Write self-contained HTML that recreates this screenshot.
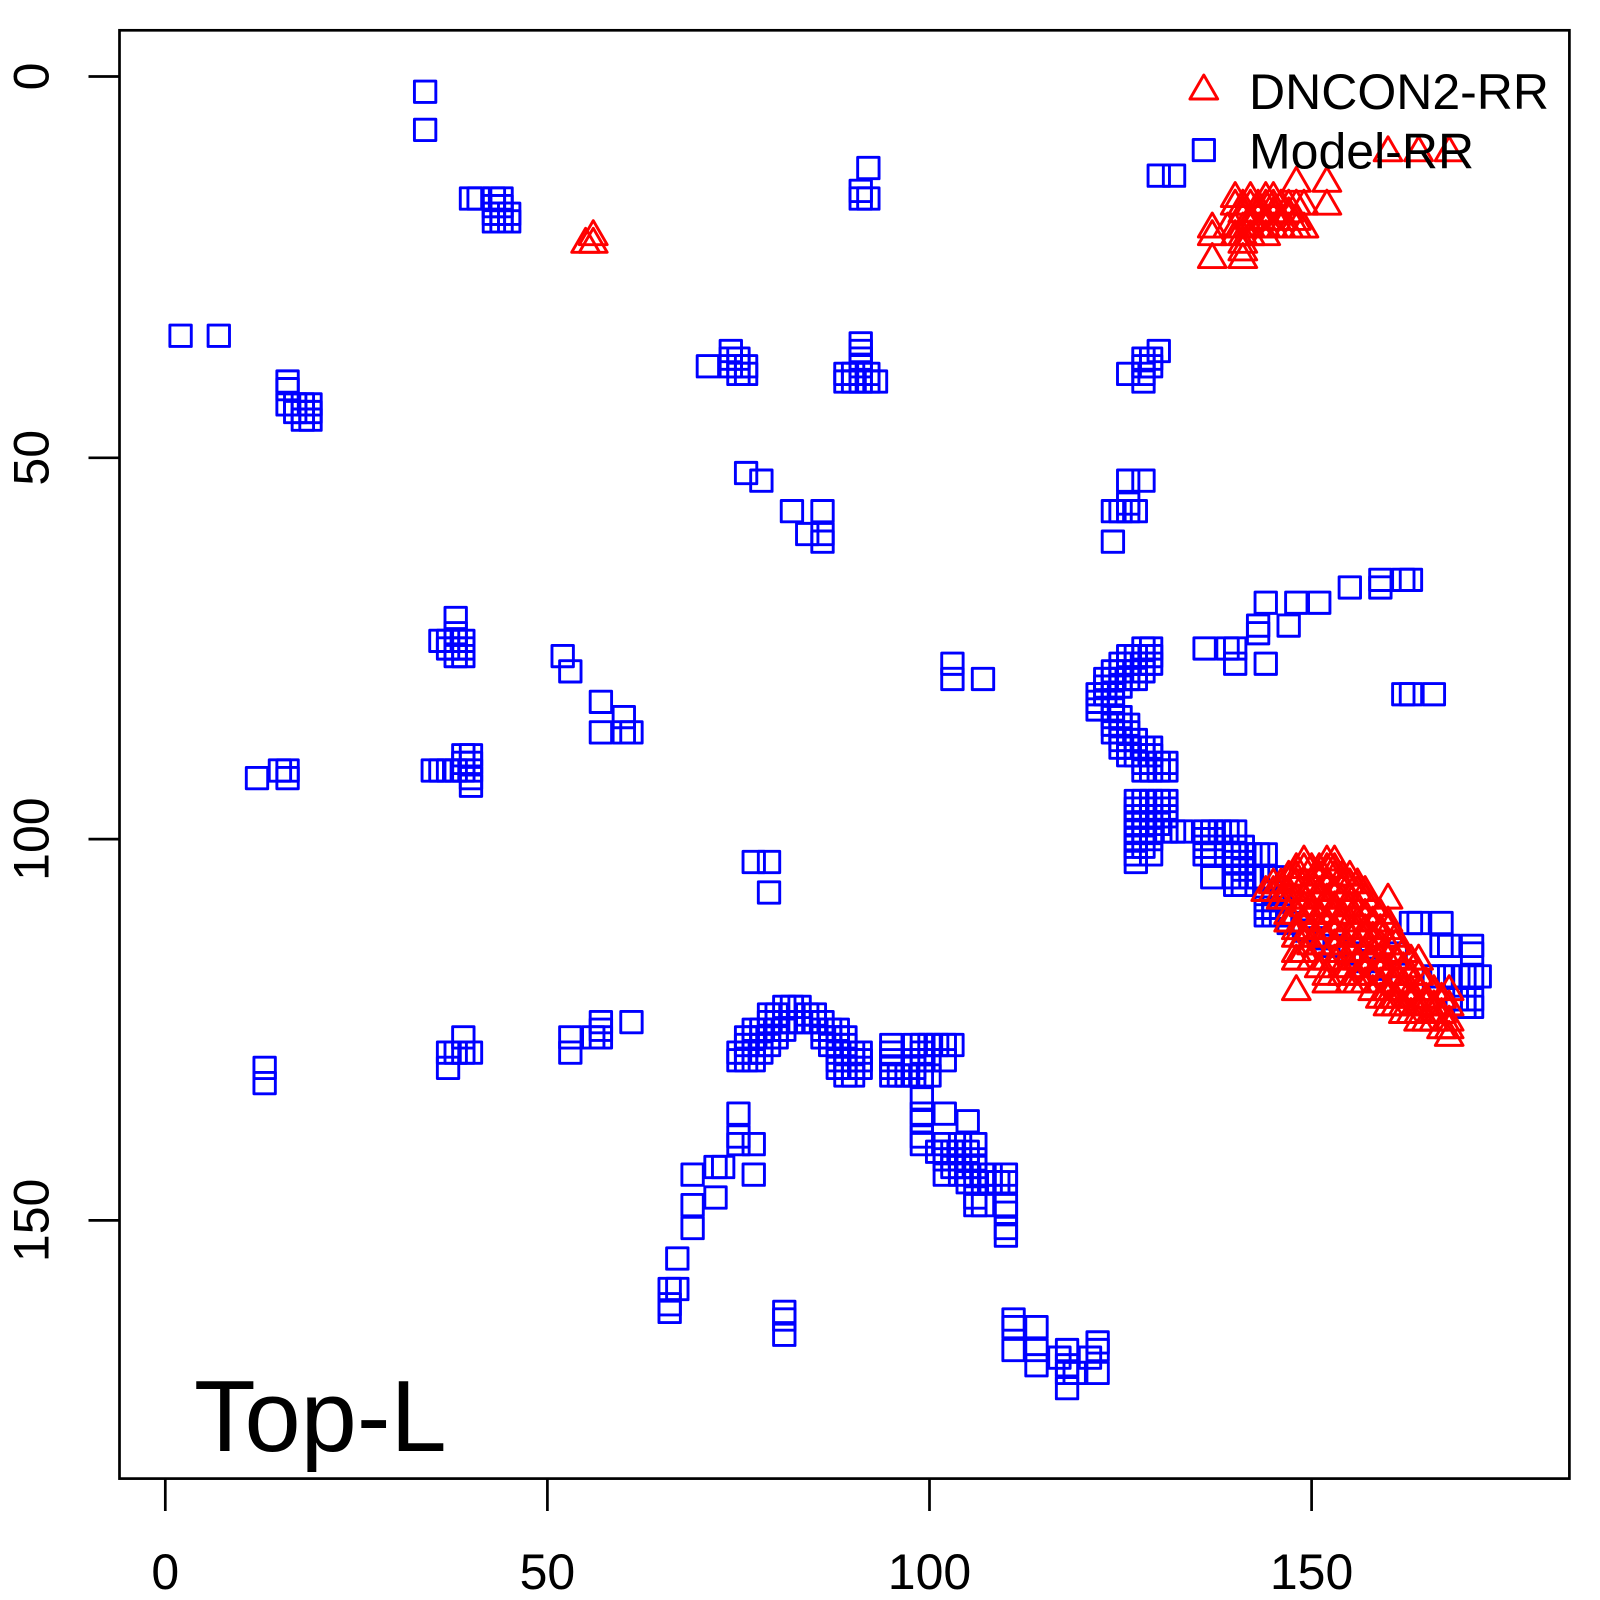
<!DOCTYPE html>
<html>
<head>
<meta charset="utf-8">
<style>
html,body{margin:0;padding:0;background:#fff;}
svg{display:block;}
text{font-family:"Liberation Sans",Arial,Helvetica,sans-serif;fill:#000;}
</style>
</head>
<body>
<svg width="1600" height="1600" viewBox="0 0 1600 1600" xmlns="http://www.w3.org/2000/svg">
<rect width="1600" height="1600" fill="#fff"/>
<defs>
<path id="s" d="M-1.4,-1.4H1.4V1.4H-1.4Z" fill="none" stroke="#0000ff" stroke-width="0.38" stroke-linejoin="round"/>
<path id="t" d="M0,-2.1L1.819,1.05H-1.819Z" fill="none" stroke="#ff0000" stroke-width="0.38" stroke-linejoin="round"/>
</defs>

<g transform="translate(165.3 76.5) scale(7.642 7.626)">
<!-- squares: top -->
<use href="#s" x="34" y="2"/><use href="#s" x="34" y="7"/>
<use href="#s" x="40" y="16"/><use href="#s" x="41" y="16"/><use href="#s" x="43" y="16"/><use href="#s" x="44" y="16"/>
<use href="#s" x="43" y="17"/><use href="#s" x="44" y="17"/><use href="#s" x="43" y="18"/><use href="#s" x="44" y="18"/><use href="#s" x="45" y="18"/>
<use href="#s" x="43" y="19"/><use href="#s" x="44" y="19"/><use href="#s" x="45" y="19"/>
<use href="#s" x="2" y="34"/><use href="#s" x="7" y="34"/>
<use href="#s" x="16" y="40"/><use href="#s" x="16" y="41"/><use href="#s" x="16" y="43"/><use href="#s" x="17" y="43"/><use href="#s" x="18" y="43"/><use href="#s" x="19" y="43"/>
<use href="#s" x="17" y="44"/><use href="#s" x="18" y="44"/><use href="#s" x="19" y="44"/><use href="#s" x="18" y="45"/><use href="#s" x="19" y="45"/>
<use href="#s" x="92" y="12"/><use href="#s" x="91" y="15"/><use href="#s" x="91" y="16"/><use href="#s" x="92" y="16"/>
<use href="#s" x="130" y="13"/><use href="#s" x="132" y="13"/>
<use href="#s" x="71" y="38"/><use href="#s" x="74" y="36"/><use href="#s" x="74" y="37"/><use href="#s" x="75" y="37"/><use href="#s" x="74" y="38"/><use href="#s" x="75" y="38"/><use href="#s" x="76" y="38"/><use href="#s" x="75" y="39"/><use href="#s" x="76" y="39"/>
<use href="#s" x="91" y="35"/><use href="#s" x="91" y="36"/><use href="#s" x="91" y="37"/><use href="#s" x="91" y="38"/>
<use href="#s" x="89" y="39"/><use href="#s" x="90" y="39"/><use href="#s" x="91" y="39"/><use href="#s" x="92" y="39"/>
<use href="#s" x="89" y="40"/><use href="#s" x="90" y="40"/><use href="#s" x="91" y="40"/><use href="#s" x="92" y="40"/><use href="#s" x="93" y="40"/>
<use href="#s" x="126" y="39"/><use href="#s" x="128" y="37"/><use href="#s" x="129" y="37"/><use href="#s" x="128" y="38"/><use href="#s" x="129" y="38"/><use href="#s" x="128" y="39"/><use href="#s" x="128" y="40"/><use href="#s" x="130" y="36"/>

<!-- squares: middle -->
<use href="#s" x="76" y="52"/><use href="#s" x="78" y="53"/><use href="#s" x="82" y="57"/><use href="#s" x="86" y="57"/><use href="#s" x="84" y="60"/><use href="#s" x="86" y="60"/><use href="#s" x="86" y="61"/>
<use href="#s" x="126" y="53"/><use href="#s" x="128" y="53"/><use href="#s" x="126" y="56"/><use href="#s" x="124" y="57"/><use href="#s" x="125" y="57"/><use href="#s" x="126" y="57"/><use href="#s" x="127" y="57"/><use href="#s" x="124" y="61"/>
<use href="#s" x="38" y="71"/><use href="#s" x="38" y="73"/><use href="#s" x="36" y="74"/><use href="#s" x="37" y="74"/><use href="#s" x="38" y="74"/><use href="#s" x="39" y="74"/>
<use href="#s" x="37" y="75"/><use href="#s" x="38" y="75"/><use href="#s" x="39" y="75"/><use href="#s" x="38" y="76"/><use href="#s" x="39" y="76"/>
<use href="#s" x="52" y="76"/><use href="#s" x="53" y="78"/>
<use href="#s" x="57" y="82"/><use href="#s" x="60" y="84"/><use href="#s" x="57" y="86"/><use href="#s" x="60" y="86"/><use href="#s" x="61" y="86"/>
<use href="#s" x="103" y="77"/><use href="#s" x="103" y="79"/><use href="#s" x="107" y="79"/>
<use href="#s" x="12" y="92"/><use href="#s" x="15" y="91"/><use href="#s" x="16" y="91"/><use href="#s" x="16" y="92"/>
<use href="#s" x="35" y="91"/><use href="#s" x="36" y="91"/><use href="#s" x="37" y="91"/><use href="#s" x="38" y="91"/>
<use href="#s" x="39" y="89"/><use href="#s" x="40" y="89"/><use href="#s" x="39" y="90"/><use href="#s" x="40" y="90"/><use href="#s" x="39" y="91"/><use href="#s" x="40" y="91"/><use href="#s" x="40" y="92"/><use href="#s" x="40" y="93"/>
<use href="#s" x="136" y="75"/><use href="#s" x="139" y="75"/><use href="#s" x="140" y="75"/><use href="#s" x="140" y="77"/><use href="#s" x="144" y="77"/>
<use href="#s" x="143" y="72"/><use href="#s" x="143" y="73"/><use href="#s" x="147" y="72"/>
<use href="#s" x="144" y="69"/><use href="#s" x="148" y="69"/><use href="#s" x="151" y="69"/><use href="#s" x="155" y="67"/>
<use href="#s" x="159" y="66"/><use href="#s" x="159" y="67"/><use href="#s" x="162" y="66"/><use href="#s" x="163" y="66"/>
<use href="#s" x="162" y="81"/><use href="#s" x="163" y="81"/><use href="#s" x="166" y="81"/>
<use href="#s" x="77" y="103"/><use href="#s" x="79" y="103"/><use href="#s" x="79" y="107"/>

<!-- C cluster -->
<use href="#s" x="128" y="75"/><use href="#s" x="129" y="75"/>
<use href="#s" x="126" y="76"/><use href="#s" x="127" y="76"/><use href="#s" x="128" y="76"/><use href="#s" x="129" y="76"/>
<use href="#s" x="125" y="77"/><use href="#s" x="126" y="77"/><use href="#s" x="127" y="77"/><use href="#s" x="128" y="77"/><use href="#s" x="129" y="77"/>
<use href="#s" x="124" y="78"/><use href="#s" x="125" y="78"/><use href="#s" x="126" y="78"/><use href="#s" x="127" y="78"/><use href="#s" x="128" y="78"/>
<use href="#s" x="123" y="79"/><use href="#s" x="124" y="79"/><use href="#s" x="125" y="79"/><use href="#s" x="126" y="79"/><use href="#s" x="127" y="79"/>
<use href="#s" x="123" y="80"/><use href="#s" x="124" y="80"/><use href="#s" x="125" y="80"/>
<use href="#s" x="122" y="81"/><use href="#s" x="123" y="81"/><use href="#s" x="124" y="81"/>
<use href="#s" x="122" y="82"/><use href="#s" x="124" y="82"/>
<use href="#s" x="122" y="83"/><use href="#s" x="124" y="83"/>
<use href="#s" x="124" y="84"/><use href="#s" x="125" y="84"/>
<use href="#s" x="124" y="85"/><use href="#s" x="125" y="85"/><use href="#s" x="126" y="85"/>
<use href="#s" x="124" y="86"/><use href="#s" x="125" y="86"/><use href="#s" x="126" y="86"/>
<use href="#s" x="125" y="87"/><use href="#s" x="126" y="87"/><use href="#s" x="127" y="87"/>
<use href="#s" x="125" y="88"/><use href="#s" x="126" y="88"/><use href="#s" x="127" y="88"/><use href="#s" x="128" y="88"/><use href="#s" x="129" y="88"/>
<use href="#s" x="126" y="89"/><use href="#s" x="127" y="89"/><use href="#s" x="128" y="89"/><use href="#s" x="129" y="89"/>
<use href="#s" x="128" y="90"/><use href="#s" x="129" y="90"/><use href="#s" x="130" y="90"/><use href="#s" x="131" y="90"/>
<use href="#s" x="128" y="91"/><use href="#s" x="129" y="91"/><use href="#s" x="130" y="91"/><use href="#s" x="131" y="91"/>
<use href="#s" x="127" y="95"/><use href="#s" x="128" y="95"/><use href="#s" x="129" y="95"/><use href="#s" x="130" y="95"/><use href="#s" x="131" y="95"/>
<use href="#s" x="127" y="96"/><use href="#s" x="129" y="96"/><use href="#s" x="131" y="96"/>
<use href="#s" x="127" y="97"/><use href="#s" x="128" y="97"/><use href="#s" x="129" y="97"/><use href="#s" x="130" y="97"/><use href="#s" x="131" y="97"/>
<use href="#s" x="127" y="98"/><use href="#s" x="128" y="98"/><use href="#s" x="130" y="98"/>
<use href="#s" x="127" y="99"/><use href="#s" x="128" y="99"/><use href="#s" x="129" y="99"/><use href="#s" x="131" y="99"/><use href="#s" x="132" y="99"/><use href="#s" x="133" y="99"/>
<use href="#s" x="136" y="99"/><use href="#s" x="137" y="99"/><use href="#s" x="138" y="99"/><use href="#s" x="139" y="99"/><use href="#s" x="140" y="99"/>
<use href="#s" x="127" y="100"/><use href="#s" x="129" y="100"/><use href="#s" x="136" y="100"/><use href="#s" x="137" y="100"/>
<use href="#s" x="127" y="101"/><use href="#s" x="128" y="101"/><use href="#s" x="136" y="101"/><use href="#s" x="137" y="101"/><use href="#s" x="140" y="101"/><use href="#s" x="141" y="101"/>
<use href="#s" x="127" y="102"/><use href="#s" x="129" y="102"/><use href="#s" x="136" y="102"/><use href="#s" x="137" y="102"/><use href="#s" x="140" y="102"/><use href="#s" x="141" y="102"/><use href="#s" x="142" y="102"/><use href="#s" x="143" y="102"/><use href="#s" x="144" y="102"/>
<use href="#s" x="127" y="103"/><use href="#s" x="140" y="103"/><use href="#s" x="141" y="103"/>
<use href="#s" x="141" y="104"/>
<use href="#s" x="137" y="105"/><use href="#s" x="140" y="105"/><use href="#s" x="141" y="105"/><use href="#s" x="142" y="105"/><use href="#s" x="143" y="105"/><use href="#s" x="144" y="105"/><use href="#s" x="145" y="105"/>
<use href="#s" x="140" y="106"/><use href="#s" x="141" y="106"/>
<use href="#s" x="145" y="107"/>
<use href="#s" x="144" y="108"/><use href="#s" x="145" y="108"/><use href="#s" x="146" y="108"/>
<use href="#s" x="144" y="109"/><use href="#s" x="145" y="109"/>
<use href="#s" x="144" y="110"/><use href="#s" x="145" y="110"/><use href="#s" x="146" y="110"/>
<use href="#s" x="147" y="111"/><use href="#s" x="149" y="112"/><use href="#s" x="151" y="113"/><use href="#s" x="153" y="114"/><use href="#s" x="155" y="115"/><use href="#s" x="157" y="116"/><use href="#s" x="159" y="117"/><use href="#s" x="161" y="115"/>
<!-- right squares near triangle blob -->
<use href="#s" x="163" y="111"/><use href="#s" x="164" y="111"/><use href="#s" x="167" y="111"/>
<use href="#s" x="167" y="114"/><use href="#s" x="168" y="114"/><use href="#s" x="171" y="114"/><use href="#s" x="171" y="115"/>
<use href="#s" x="166" y="118"/><use href="#s" x="167" y="118"/><use href="#s" x="168" y="118"/><use href="#s" x="170" y="118"/><use href="#s" x="171" y="118"/><use href="#s" x="172" y="118"/>
<use href="#s" x="169" y="121"/><use href="#s" x="170" y="121"/><use href="#s" x="171" y="121"/><use href="#s" x="170" y="122"/><use href="#s" x="171" y="122"/>

<!-- squares: bottom -->
<use href="#s" x="13" y="130"/><use href="#s" x="13" y="132"/>
<use href="#s" x="39" y="126"/><use href="#s" x="37" y="128"/><use href="#s" x="38" y="128"/><use href="#s" x="39" y="128"/><use href="#s" x="40" y="128"/><use href="#s" x="37" y="130"/>
<use href="#s" x="53" y="126"/><use href="#s" x="53" y="128"/><use href="#s" x="57" y="124"/><use href="#s" x="57" y="125"/><use href="#s" x="57" y="126"/><use href="#s" x="56" y="126"/><use href="#s" x="61" y="124"/>
<!-- arch -->
<use href="#s" x="81" y="122"/><use href="#s" x="82" y="122"/><use href="#s" x="83" y="122"/>
<use href="#s" x="79" y="123"/><use href="#s" x="80" y="123"/><use href="#s" x="84" y="123"/><use href="#s" x="85" y="123"/>
<use href="#s" x="79" y="124"/><use href="#s" x="80" y="124"/><use href="#s" x="81" y="124"/><use href="#s" x="82" y="124"/><use href="#s" x="83" y="124"/><use href="#s" x="84" y="124"/><use href="#s" x="85" y="124"/><use href="#s" x="86" y="124"/>
<use href="#s" x="77" y="125"/><use href="#s" x="78" y="125"/><use href="#s" x="79" y="125"/><use href="#s" x="80" y="125"/><use href="#s" x="81" y="125"/><use href="#s" x="86" y="125"/><use href="#s" x="87" y="125"/><use href="#s" x="88" y="125"/>
<use href="#s" x="76" y="126"/><use href="#s" x="77" y="126"/><use href="#s" x="78" y="126"/><use href="#s" x="79" y="126"/><use href="#s" x="80" y="126"/><use href="#s" x="86" y="126"/><use href="#s" x="87" y="126"/><use href="#s" x="88" y="126"/><use href="#s" x="89" y="126"/>
<use href="#s" x="76" y="127"/><use href="#s" x="77" y="127"/><use href="#s" x="78" y="127"/><use href="#s" x="79" y="127"/><use href="#s" x="87" y="127"/><use href="#s" x="88" y="127"/><use href="#s" x="89" y="127"/>
<use href="#s" x="75" y="128"/><use href="#s" x="76" y="128"/><use href="#s" x="77" y="128"/><use href="#s" x="78" y="128"/><use href="#s" x="88" y="128"/><use href="#s" x="89" y="128"/><use href="#s" x="90" y="128"/><use href="#s" x="91" y="128"/>
<use href="#s" x="75" y="129"/><use href="#s" x="76" y="129"/><use href="#s" x="77" y="129"/><use href="#s" x="88" y="129"/><use href="#s" x="89" y="129"/><use href="#s" x="90" y="129"/><use href="#s" x="91" y="129"/>
<use href="#s" x="88" y="130"/><use href="#s" x="89" y="130"/><use href="#s" x="90" y="130"/><use href="#s" x="91" y="130"/>
<use href="#s" x="89" y="131"/><use href="#s" x="90" y="131"/>
<!-- right group of arch -->
<use href="#s" x="95" y="127"/><use href="#s" x="98" y="127"/><use href="#s" x="99" y="127"/><use href="#s" x="100" y="127"/><use href="#s" x="101" y="127"/><use href="#s" x="102" y="127"/><use href="#s" x="103" y="127"/>
<use href="#s" x="95" y="128"/><use href="#s" x="99" y="128"/>
<use href="#s" x="95" y="129"/><use href="#s" x="98" y="129"/><use href="#s" x="99" y="129"/><use href="#s" x="100" y="129"/><use href="#s" x="102" y="129"/>
<use href="#s" x="95" y="130"/><use href="#s" x="98" y="130"/>
<use href="#s" x="95" y="131"/><use href="#s" x="96" y="131"/><use href="#s" x="97" y="131"/><use href="#s" x="98" y="131"/><use href="#s" x="99" y="131"/><use href="#s" x="100" y="131"/>
<!-- descending -->
<use href="#s" x="99" y="134"/><use href="#s" x="99" y="136"/><use href="#s" x="99" y="137"/><use href="#s" x="99" y="139"/><use href="#s" x="99" y="140"/>
<use href="#s" x="102" y="136"/><use href="#s" x="105" y="137"/>
<use href="#s" x="101" y="141"/><use href="#s" x="102" y="140"/><use href="#s" x="102" y="141"/><use href="#s" x="102" y="142"/>
<use href="#s" x="103" y="141"/><use href="#s" x="103" y="142"/><use href="#s" x="103" y="143"/>
<use href="#s" x="104" y="140"/><use href="#s" x="104" y="142"/><use href="#s" x="104" y="143"/>
<use href="#s" x="105" y="141"/><use href="#s" x="105" y="143"/>
<use href="#s" x="106" y="140"/><use href="#s" x="106" y="142"/><use href="#s" x="106" y="143"/>
<use href="#s" x="102" y="144"/><use href="#s" x="104" y="144"/><use href="#s" x="105" y="145"/><use href="#s" x="106" y="144"/>
<use href="#s" x="107" y="144"/><use href="#s" x="108" y="144"/><use href="#s" x="107" y="145"/><use href="#s" x="108" y="145"/><use href="#s" x="109" y="145"/>
<use href="#s" x="110" y="144"/><use href="#s" x="110" y="145"/>
<use href="#s" x="106" y="147"/><use href="#s" x="106" y="148"/><use href="#s" x="107" y="148"/>
<use href="#s" x="110" y="148"/><use href="#s" x="110" y="149"/><use href="#s" x="110" y="151"/><use href="#s" x="110" y="152"/>
<!-- bottom cluster -->
<use href="#s" x="111" y="163"/><use href="#s" x="111" y="164"/><use href="#s" x="111" y="167"/>
<use href="#s" x="114" y="164"/><use href="#s" x="114" y="167"/><use href="#s" x="114" y="169"/>
<use href="#s" x="117" y="168"/><use href="#s" x="118" y="167"/><use href="#s" x="118" y="169"/><use href="#s" x="118" y="170"/><use href="#s" x="118" y="172"/><use href="#s" x="119" y="170"/>
<use href="#s" x="122" y="166"/><use href="#s" x="122" y="167"/><use href="#s" x="122" y="170"/><use href="#s" x="121" y="168"/>
<!-- left of arch -->
<use href="#s" x="75" y="136"/><use href="#s" x="75" y="139"/><use href="#s" x="75" y="140"/><use href="#s" x="77" y="140"/>
<use href="#s" x="72" y="143"/><use href="#s" x="73" y="143"/><use href="#s" x="77" y="144"/>
<use href="#s" x="69" y="144"/><use href="#s" x="69" y="148"/><use href="#s" x="72" y="147"/><use href="#s" x="69" y="151"/>
<use href="#s" x="67" y="155"/><use href="#s" x="66" y="159"/><use href="#s" x="67" y="159"/><use href="#s" x="66" y="161"/><use href="#s" x="66" y="162"/>
<use href="#s" x="81" y="162"/><use href="#s" x="81" y="163"/><use href="#s" x="81" y="165"/>

<!-- triangles -->
<use href="#t" x="56" y="21"/><use href="#t" x="55" y="22"/><use href="#t" x="56" y="22"/>
<use href="#t" x="160" y="10"/><use href="#t" x="164" y="10"/><use href="#t" x="168" y="10"/>
<use href="#t" x="148" y="14"/><use href="#t" x="152" y="14"/>
<use href="#t" x="140" y="16"/><use href="#t" x="142" y="16"/><use href="#t" x="144" y="16"/><use href="#t" x="145" y="16"/>
<use href="#t" x="140" y="17"/><use href="#t" x="141" y="17"/><use href="#t" x="142" y="17"/><use href="#t" x="143" y="17"/><use href="#t" x="144" y="17"/><use href="#t" x="145" y="17"/><use href="#t" x="146" y="17"/><use href="#t" x="147" y="17"/><use href="#t" x="148" y="17"/><use href="#t" x="149" y="17"/><use href="#t" x="152" y="17"/>
<use href="#t" x="141" y="18"/><use href="#t" x="143" y="18"/><use href="#t" x="145" y="18"/><use href="#t" x="147" y="18"/>
<use href="#t" x="142" y="19"/><use href="#t" x="144" y="19"/><use href="#t" x="146" y="19"/><use href="#t" x="148" y="19"/>
<use href="#t" x="137" y="20"/><use href="#t" x="139" y="20"/><use href="#t" x="140" y="20"/><use href="#t" x="141" y="20"/><use href="#t" x="142" y="20"/><use href="#t" x="143" y="20"/><use href="#t" x="144" y="20"/><use href="#t" x="145" y="20"/><use href="#t" x="146" y="20"/><use href="#t" x="147" y="20"/><use href="#t" x="148" y="20"/><use href="#t" x="149" y="20"/>
<use href="#t" x="137" y="21"/><use href="#t" x="140" y="21"/><use href="#t" x="141" y="21"/><use href="#t" x="142" y="21"/><use href="#t" x="144" y="21"/>
<use href="#t" x="141" y="22"/><use href="#t" x="141" y="23"/><use href="#t" x="137" y="24"/><use href="#t" x="141" y="24"/>
<!-- big blob -->
<use href="#t" x="144" y="107"/>
<use href="#t" x="145" y="106"/><use href="#t" x="145" y="107"/>
<use href="#t" x="146" y="106"/><use href="#t" x="146" y="107"/><use href="#t" x="146" y="108"/>
<use href="#t" x="147" y="105"/><use href="#t" x="147" y="107"/><use href="#t" x="147" y="108"/><use href="#t" x="147" y="110"/><use href="#t" x="147" y="111"/>
<use href="#t" x="148" y="104"/><use href="#t" x="148" y="105"/><use href="#t" x="148" y="106"/><use href="#t" x="148" y="108"/><use href="#t" x="148" y="110"/><use href="#t" x="148" y="112"/><use href="#t" x="148" y="113"/><use href="#t" x="148" y="115"/><use href="#t" x="148" y="116"/><use href="#t" x="148" y="120"/>
<use href="#t" x="149" y="103"/><use href="#t" x="149" y="104"/><use href="#t" x="149" y="106"/><use href="#t" x="149" y="108"/><use href="#t" x="149" y="109"/><use href="#t" x="149" y="111"/><use href="#t" x="149" y="113"/><use href="#t" x="149" y="115"/>
<use href="#t" x="150" y="104"/><use href="#t" x="150" y="106"/><use href="#t" x="150" y="107"/><use href="#t" x="150" y="109"/><use href="#t" x="150" y="110"/><use href="#t" x="150" y="112"/><use href="#t" x="150" y="114"/><use href="#t" x="150" y="116"/>
<use href="#t" x="151" y="104"/><use href="#t" x="151" y="105"/><use href="#t" x="151" y="107"/><use href="#t" x="151" y="108"/><use href="#t" x="151" y="110"/><use href="#t" x="151" y="112"/><use href="#t" x="151" y="114"/><use href="#t" x="151" y="117"/>
<use href="#t" x="152" y="103"/><use href="#t" x="152" y="104"/><use href="#t" x="152" y="106"/><use href="#t" x="152" y="108"/><use href="#t" x="152" y="109"/><use href="#t" x="152" y="111"/><use href="#t" x="152" y="113"/><use href="#t" x="152" y="116"/><use href="#t" x="152" y="118"/><use href="#t" x="152" y="119"/>
<use href="#t" x="153" y="103"/><use href="#t" x="153" y="104"/><use href="#t" x="153" y="105"/><use href="#t" x="153" y="107"/><use href="#t" x="153" y="109"/><use href="#t" x="153" y="110"/><use href="#t" x="153" y="112"/><use href="#t" x="153" y="114"/><use href="#t" x="153" y="116"/>
<use href="#t" x="154" y="105"/><use href="#t" x="154" y="106"/><use href="#t" x="154" y="108"/><use href="#t" x="154" y="110"/><use href="#t" x="154" y="111"/><use href="#t" x="154" y="113"/><use href="#t" x="154" y="115"/><use href="#t" x="154" y="117"/><use href="#t" x="154" y="118"/>
<use href="#t" x="155" y="105"/><use href="#t" x="155" y="106"/><use href="#t" x="155" y="108"/><use href="#t" x="155" y="109"/><use href="#t" x="155" y="111"/><use href="#t" x="155" y="113"/><use href="#t" x="155" y="115"/><use href="#t" x="155" y="117"/><use href="#t" x="155" y="119"/>
<use href="#t" x="156" y="106"/><use href="#t" x="156" y="107"/><use href="#t" x="156" y="109"/><use href="#t" x="156" y="111"/><use href="#t" x="156" y="112"/><use href="#t" x="156" y="114"/><use href="#t" x="156" y="116"/><use href="#t" x="156" y="118"/><use href="#t" x="156" y="119"/>
<use href="#t" x="157" y="107"/><use href="#t" x="157" y="108"/><use href="#t" x="157" y="110"/><use href="#t" x="157" y="112"/><use href="#t" x="157" y="113"/><use href="#t" x="157" y="115"/><use href="#t" x="157" y="117"/><use href="#t" x="157" y="119"/>
<use href="#t" x="158" y="109"/><use href="#t" x="158" y="111"/><use href="#t" x="158" y="113"/><use href="#t" x="158" y="115"/><use href="#t" x="158" y="116"/><use href="#t" x="158" y="118"/><use href="#t" x="158" y="120"/>
<use href="#t" x="159" y="110"/><use href="#t" x="159" y="112"/><use href="#t" x="159" y="114"/><use href="#t" x="159" y="116"/><use href="#t" x="159" y="117"/><use href="#t" x="159" y="119"/><use href="#t" x="159" y="121"/>
<use href="#t" x="160" y="108"/><use href="#t" x="160" y="111"/><use href="#t" x="160" y="112"/><use href="#t" x="160" y="114"/><use href="#t" x="160" y="116"/><use href="#t" x="160" y="118"/><use href="#t" x="160" y="120"/><use href="#t" x="160" y="121"/><use href="#t" x="160" y="122"/>
<use href="#t" x="161" y="113"/><use href="#t" x="161" y="114"/><use href="#t" x="161" y="116"/><use href="#t" x="161" y="118"/><use href="#t" x="161" y="119"/><use href="#t" x="161" y="121"/><use href="#t" x="161" y="122"/>
<use href="#t" x="162" y="115"/><use href="#t" x="162" y="117"/><use href="#t" x="162" y="119"/><use href="#t" x="162" y="120"/><use href="#t" x="162" y="122"/><use href="#t" x="162" y="123"/>
<use href="#t" x="163" y="116"/><use href="#t" x="163" y="118"/><use href="#t" x="163" y="120"/><use href="#t" x="163" y="121"/><use href="#t" x="163" y="123"/>
<use href="#t" x="164" y="116"/><use href="#t" x="164" y="118"/><use href="#t" x="164" y="120"/><use href="#t" x="164" y="122"/><use href="#t" x="164" y="123"/><use href="#t" x="164" y="124"/>
<use href="#t" x="165" y="119"/><use href="#t" x="165" y="121"/><use href="#t" x="165" y="122"/><use href="#t" x="165" y="124"/>
<use href="#t" x="166" y="120"/><use href="#t" x="166" y="122"/><use href="#t" x="166" y="123"/><use href="#t" x="166" y="124"/>
<use href="#t" x="167" y="121"/><use href="#t" x="167" y="123"/><use href="#t" x="167" y="125"/>
<use href="#t" x="168" y="120"/><use href="#t" x="168" y="122"/><use href="#t" x="168" y="124"/><use href="#t" x="168" y="125"/><use href="#t" x="168" y="126"/>
</g>

<!-- frame -->
<rect x="119.5" y="30.3" width="1449.9" height="1448.3" fill="none" stroke="#000" stroke-width="2.7"/>
<g stroke="#000" stroke-width="2.7">
<line x1="165.3" y1="1478.6" x2="165.3" y2="1511"/>
<line x1="547.4" y1="1478.6" x2="547.4" y2="1511"/>
<line x1="929.5" y1="1478.6" x2="929.5" y2="1511"/>
<line x1="1311.6" y1="1478.6" x2="1311.6" y2="1511"/>
<line x1="88.5" y1="76.5" x2="119.5" y2="76.5"/>
<line x1="88.5" y1="457.8" x2="119.5" y2="457.8"/>
<line x1="88.5" y1="839.1" x2="119.5" y2="839.1"/>
<line x1="88.5" y1="1220.4" x2="119.5" y2="1220.4"/>
</g>
<g font-size="50" text-anchor="middle">
<text x="165.3" y="1589">0</text>
<text x="547.4" y="1589">50</text>
<text x="929.5" y="1589">100</text>
<text x="1311.6" y="1589">150</text>
<text transform="translate(48.5 76.5) rotate(-90)">0</text>
<text transform="translate(48.5 457.8) rotate(-90)">50</text>
<text transform="translate(48.5 839.1) rotate(-90)">100</text>
<text transform="translate(48.5 1220.4) rotate(-90)">150</text>
</g>

<!-- legend -->
<path d="M1203.8,75L1217.7,99H1189.9Z" fill="none" stroke="#ff0000" stroke-width="2.9" stroke-linejoin="round"/>
<rect x="1193.2" y="139.4" width="21.3" height="21.3" fill="none" stroke="#0000ff" stroke-width="2.9" stroke-linejoin="round"/>
<text x="1249" y="109" font-size="50">DNCON2-RR</text>
<text x="1249" y="168.5" font-size="50">Model-RR</text>

<text x="194" y="1451" font-size="101">Top-L</text>
</svg>
</body>
</html>
